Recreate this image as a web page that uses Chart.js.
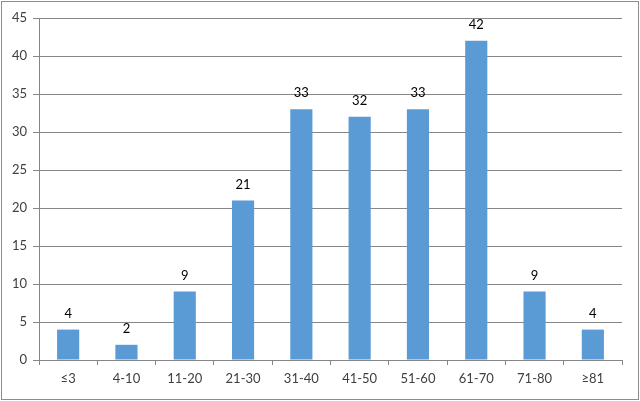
<!DOCTYPE html>
<html>
<head>
<meta charset="utf-8">
<script src="https://cdn.jsdelivr.net/npm/chart.js@4/dist/chart.umd.min.js"></script>
<style>
  html, body { margin: 0; padding: 0; background: #fff; }
  #wrap { position: absolute; left: 0; top: 0; width: 640px; height: 401px; }
</style>
</head>
<body>
<div id="wrap"><canvas id="myChart" width="640" height="401"></canvas></div>
<script>
// Categories and values
var labels = ['≤3', '4-10', '11-20', '21-30', '31-40', '41-50', '51-60', '61-70', '71-80', '≥81'];
var counts = [4, 2, 9, 21, 33, 32, 33, 42, 9, 4];
var yTicks = [0, 5, 10, 15, 20, 25, 30, 35, 40, 45];

var axisGray = '#868686';
var textGray = '#404040';

// white background + outer frame
var frame = {
    id: 'frame',
    beforeDraw: function (chart) {
        var c = chart.ctx;
        c.save();
        c.fillStyle = '#fff';
        c.fillRect(0, 0, chart.width, chart.height);
        c.strokeStyle = '#8c8c8c';
        c.lineWidth = 1;
        c.strokeRect(1.5, 1.5, chart.width - 3, chart.height - 3);
        c.restore();
    }
};

// value labels above each bar
var valueLabels = {
    id: 'valueLabels',
    afterDatasetsDraw: function (chart) {
        var c = chart.ctx;
        var meta = chart.getDatasetMeta(0);
        c.save();
        c.font = '13px Lato';
        c.fillStyle = '#000';
        c.textAlign = 'center';
        c.textBaseline = 'middle';
        meta.data.forEach(function (bar, i) {
            c.fillText(String(counts[i]), bar.x, bar.y - 16);
        });
        c.restore();
    }
};

var ctx = document.getElementById('myChart').getContext('2d');

var myChart = new Chart(ctx, {
    type: 'bar',
    data: {
        labels: labels,
        datasets: [{
            data: counts,
            backgroundColor: '#5b9bd5',
            borderWidth: 0,
            categoryPercentage: 1,
            barPercentage: 0.38
        }]
    },
    options: {
        responsive: false,
        animation: false,
        devicePixelRatio: 1,
        layout: { padding: { left: 0, right: 18, top: 18, bottom: 0 } },
        plugins: {
            legend: { display: false },
            tooltip: { enabled: false }
        },
        scales: {
            x: {
                grid: {
                    offset: true,
                    drawOnChartArea: false,
                    color: axisGray,
                    tickLength: 5
                },
                border: { color: axisGray },
                ticks: {
                    color: textGray,
                    font: { family: 'Lato', size: 13 },
                    padding: 6,
                    maxRotation: 0
                },
                afterFit: function (s) { s.height = 41; }
            },
            y: {
                min: 0,
                max: 45,
                afterBuildTicks: function (s) {
                    s.ticks = yTicks.map(function (v) { return { value: v }; });
                },
                grid: {
                    color: axisGray,
                    tickLength: 6
                },
                border: { color: axisGray },
                ticks: {
                    color: textGray,
                    font: { family: 'Lato', size: 13 },
                    padding: 6
                },
                afterFit: function (s) { s.width = 39; }
            }
        }
    },
    plugins: [frame, valueLabels]
});
</script>
</body>
</html>
